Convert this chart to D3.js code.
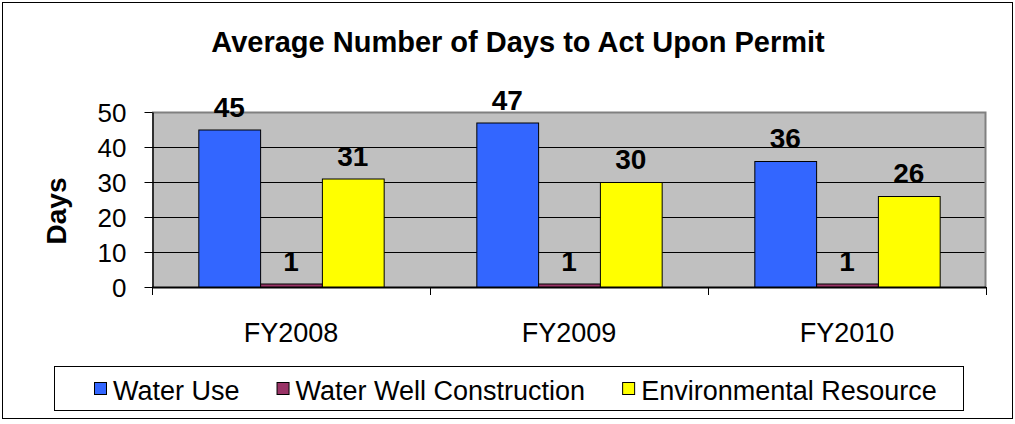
<!DOCTYPE html>
<html>
<head>
<meta charset="utf-8">
<script src="https://cdnjs.cloudflare.com/ajax/libs/d3/7.8.5/d3.min.js"></script>
<style>
  html, body { margin: 0; padding: 0; background: #ffffff; }
  svg { display: block; font-family: Arial, "Liberation Sans", sans-serif; }
</style>
</head>
<body>
<svg id="chart" width="1015" height="424"></svg>
<script>
// ---- data ----
const title = "Average Number of Days to Act Upon Permit";
const yAxisTitle = "Days";
const categories = ["FY2008", "FY2009", "FY2010"];
const seriesNames = ["Water Use", "Water Well Construction", "Environmental Resource"];
const waterUse = [45, 47, 36];
const waterWellConstruction = [1, 1, 1];
const environmentalResource = [31, 30, 26];
const yTicks = [0, 10, 20, 30, 40, 50];
const seriesColors = ["#3366FF", "#993366", "#FFFF00"];

// ---- layout ----
const svg = d3.select("#chart");
const plot = { left: 152, right: 986, top: 112, bottom: 287 };

const seriesValues = [waterUse, waterWellConstruction, environmentalResource];
const table = categories.map((c, i) => ({
  category: c,
  values: seriesNames.map((s, j) => ({ series: s, value: seriesValues[j][i], color: seriesColors[j] }))
}));

const x0 = d3.scaleBand().domain(categories).range([plot.left, plot.right]).paddingInner(0).paddingOuter(0);
const barW = x0.bandwidth() / 4.5;
const x1 = d3.scaleBand().domain(seriesNames).range([0.75 * barW, 3.75 * barW]).padding(0);
const y = d3.scaleLinear().domain([0, 50]).range([plot.bottom, plot.top]);

function addText(g, x, yPos, txt, opts) {
  return g.append("text")
    .attr("x", x).attr("y", yPos)
    .attr("text-anchor", opts.anchor || "middle")
    .attr("font-size", opts.size)
    .attr("font-weight", opts.weight || "normal")
    .attr("fill", "#000")
    .text(txt);
}

// outer border
svg.append("rect").attr("x", 2.5).attr("y", 2.5).attr("width", 1010).attr("height", 416)
  .attr("fill", "#fff").attr("stroke", "#000").attr("stroke-width", 1);

// title
addText(svg, 518, 52, title, { size: 29, weight: "bold" });

// plot background
svg.append("rect")
  .attr("x", plot.left).attr("y", plot.top)
  .attr("width", plot.right - plot.left).attr("height", plot.bottom - plot.top)
  .attr("fill", "#C0C0C0");

// gridlines
svg.append("g").selectAll("line").data(yTicks.filter(d => d > 0 && d < 50)).join("line")
  .attr("x1", plot.left).attr("x2", plot.right)
  .attr("y1", d => Math.round(y(d)) + 0.5).attr("y2", d => Math.round(y(d)) + 0.5)
  .attr("stroke", "#000").attr("stroke-width", 1);

// plot border top & right (gray)
svg.append("path")
  .attr("d", `M${plot.left},${plot.top + 0.5}H${plot.right - 0.5}V${plot.bottom}`)
  .attr("fill", "none").attr("stroke", "#808080").attr("stroke-width", 2);

// bars
const groups = svg.append("g").selectAll("g").data(table).join("g")
  .attr("transform", d => `translate(${x0(d.category)},0)`);
groups.selectAll("rect").data(d => d.values).join("rect")
  .attr("x", d => x1(d.series) + 0.5)
  .attr("y", d => y(d.value) + 0.5)
  .attr("width", x1.bandwidth())
  .attr("height", d => y(0) - y(d.value))
  .attr("fill", d => d.color)
  .attr("stroke", "#000").attr("stroke-width", 1);

// data labels
groups.each(function(d) {
  const g = d3.select(this);
  d.values.forEach(v => {
    addText(g, x1(v.series) + x1.bandwidth() / 2, y(v.value) - 13, String(v.value), { size: 28, weight: "bold" });
  });
});

// y axis
const yAxis = d3.axisLeft(y).tickValues(yTicks).tickSize(8).tickPadding(18).tickSizeOuter(0);
const yg = svg.append("g").attr("transform", `translate(${plot.left + 0.5},0)`).call(yAxis);
yg.select(".domain").attr("stroke", "#000").attr("stroke-width", 1.5);
yg.selectAll(".tick line").attr("stroke", "#000");
yg.selectAll(".tick text")
  .attr("font-size", 26)
  .attr("font-family", "Arial, 'Liberation Sans', sans-serif")
  .attr("fill", "#000")
  .attr("dy", "0.36em");

// x axis
svg.append("line")
  .attr("x1", plot.left).attr("x2", plot.right)
  .attr("y1", plot.bottom + 0.5).attr("y2", plot.bottom + 0.5)
  .attr("stroke", "#000").attr("stroke-width", 2);
const bounds = categories.map(c => x0(c)).concat([plot.right]);
svg.append("g").selectAll("line").data(bounds).join("line")
  .attr("x1", d => Math.round(d) + 0.5).attr("x2", d => Math.round(d) + 0.5)
  .attr("y1", plot.bottom).attr("y2", plot.bottom + 8)
  .attr("stroke", "#000").attr("stroke-width", 1);
categories.forEach(c => {
  addText(svg, x0(c) + x0.bandwidth() / 2, 342, c, { size: 27 });
});

// y axis title
svg.append("text")
  .attr("transform", "translate(66,211) rotate(-90)")
  .attr("text-anchor", "middle")
  .attr("font-size", 28).attr("font-weight", "bold")
  .text(yAxisTitle);

// legend
svg.append("rect").attr("x", 54.5).attr("y", 366.5).attr("width", 909).attr("height", 44)
  .attr("fill", "#fff").attr("stroke", "#000").attr("stroke-width", 1);
let lx = 94;
seriesNames.forEach((s, i) => {
  svg.append("rect").attr("x", lx + 0.5).attr("y", 382.5).attr("width", 12).attr("height", 12)
    .attr("fill", seriesColors[i]).attr("stroke", "#000").attr("stroke-width", 1);
  const t = addText(svg, lx + 19, 400, s, { size: 27, anchor: "start" });
  const w = t.node().getComputedTextLength();
  lx = lx + 19 + w + 37;
});
</script>
</body>
</html>
